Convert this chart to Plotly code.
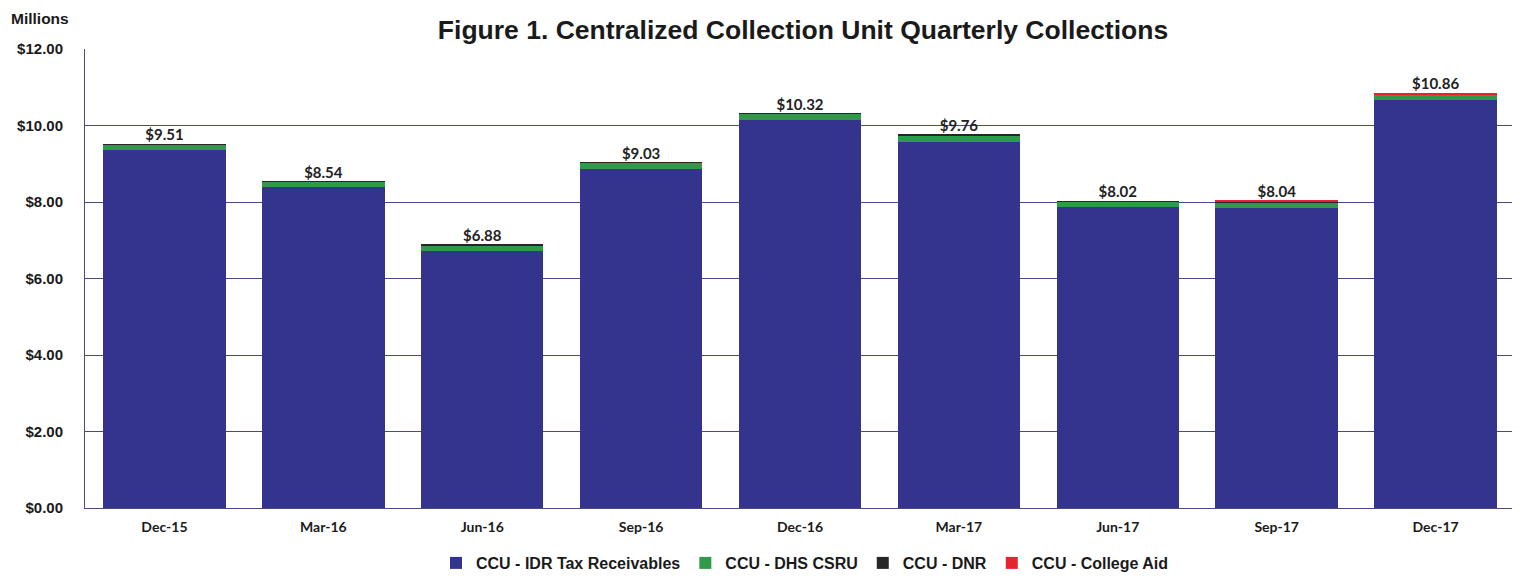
import plotly.graph_objects as go

quarters = ["Dec-15", "Mar-16", "Jun-16", "Sep-16", "Dec-16", "Mar-17", "Jun-17", "Sep-17", "Dec-17"]
totals = [9.51, 8.54, 6.88, 9.03, 10.32, 9.76, 8.02, 8.04, 10.86]
dhs_csru = [0.15, 0.15, 0.14, 0.16, 0.17, 0.17, 0.13, 0.14, 0.14]
dnr = [0.01, 0.01, 0.01, 0.01, 0.01, 0.03, 0.01, 0.01, 0.01]
college_aid = [0.0, 0.0, 0.0, 0.0, 0.0, 0.0, 0.0, 0.04, 0.04]
idr_tax = [round(t - a - b - c, 2) for t, a, b, c in zip(totals, dhs_csru, dnr, college_aid)]
y_ticks = [0, 2, 4, 6, 8, 10, 12]
y_tick_labels = ["$0.00", "$2.00", "$4.00", "$6.00", "$8.00", "$10.00", "$12.00"]

# page body has an 8px margin; figure coordinates are screen minus 8
W, H = 1512, 568
L, T, R, B = 77, 41, 5, 68
PW, PH = W - L - R, H - T - B

fig = go.Figure()
series = [
    ("CCU - IDR Tax Receivables", idr_tax, "#34348f"),
    ("CCU - DHS CSRU", dhs_csru, "#2f9a4a"),
    ("CCU - DNR", dnr, "#262626"),
    ("CCU - College Aid", college_aid, "#e42530"),
]
for name, vals, col in series:
    fig.add_trace(go.Bar(x=quarters, y=vals, name=name, marker=dict(color=col, line=dict(width=0))))

fig.add_trace(go.Scatter(
    x=quarters, y=totals, mode="text",
    text=[f"${v:.2f}" for v in totals], textposition="top center",
    textfont=dict(family="Lato", size=15, color="#222", weight="bold"),
    showlegend=False, hoverinfo="skip", cliponaxis=False,
))

fig.update_layout(
    barmode="stack",
    bargap=0.23,
    width=W, height=H,
    margin=dict(l=L, r=R, t=T, b=B, autoexpand=False),
    plot_bgcolor="white", paper_bgcolor="white",
    font=dict(family="Liberation Sans", color="#1a1a1a"),
    title=dict(text="<b>Figure 1. Centralized Collection Unit Quarterly Collections</b>",
               x=795 / W, xanchor="center", y=1 - 22 / H, yanchor="middle",
               font=dict(family="Liberation Sans", size=26.5, color="#1a1a1a")),
    legend=dict(orientation="h", x=(797 - L) / PW, xanchor="center", y=-38 / PH, yanchor="top",
                font=dict(family="Liberation Sans", size=16, color="#1a1a1a", weight="bold"),
                itemwidth=30, traceorder="normal"),
    annotations=[dict(text="<b>Millions</b>", x=(1 - L) / PW, y=(H - B - 0) / PH,
                      xref="paper", yref="paper",
                      showarrow=False, xanchor="left", yanchor="top",
                      font=dict(family="Liberation Sans", size=15.5, color="#1a1a1a"))],
)

fig.update_yaxes(range=[0, 12], tickvals=y_ticks, ticktext=[f"<b>{t}</b>" for t in y_tick_labels],
                 showgrid=True, gridcolor="#4a4a80", gridwidth=1,
                 showline=True, linecolor="#4a4a80", linewidth=1, zeroline=False,
                 tickfont=dict(family="Liberation Sans", size=15, color="#1a1a1a"),
                 ticks="", ticklabelstandoff=18, automargin=False)
fig.update_xaxes(showline=True, linecolor="#4a4a80", linewidth=1, mirror=False,
                 tickfont=dict(family="Lato", size=14, color="#1a1a1a"),
                 ticktext=[f"<b>{q}</b>" for q in quarters], tickvals=quarters,
                 ticklabelstandoff=6, automargin=False)

fig.write_html("out.html")
